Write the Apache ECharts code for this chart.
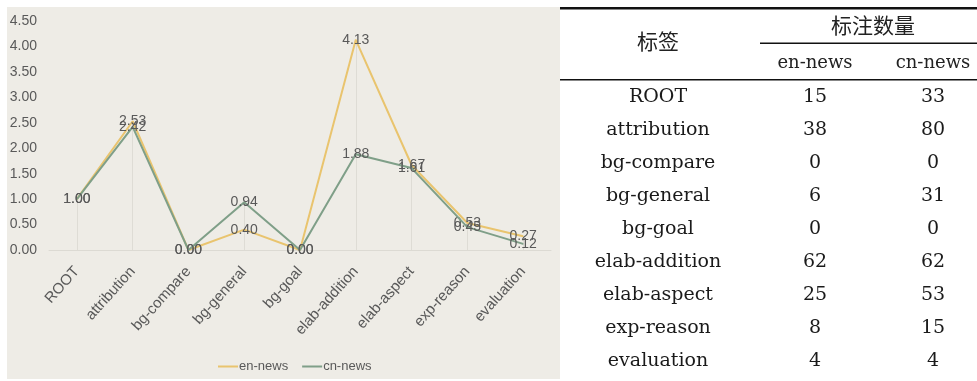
<!DOCTYPE html>
<html>
<head>
<meta charset="utf-8">
<script src="https://cdn.jsdelivr.net/npm/echarts@6/dist/echarts.min.js"></script>
<style>
html,body{margin:0;padding:0;background:#fff;}
#c{width:977px;height:381px;}
</style>
</head>
<body>
<div id="c"></div>
<script>
// ---- data ----
const categories = ['ROOT','attribution','bg-compare','bg-general','bg-goal','elab-addition','elab-aspect','exp-reason','evaluation'];
const enNews = [1.00, 2.53, 0.00, 0.40, 0.00, 4.13, 1.67, 0.53, 0.27];
const cnNews = [1.00, 2.42, 0.00, 0.94, 0.00, 1.88, 1.61, 0.45, 0.12];
const yTicks = ['0.00','0.50','1.00','1.50','2.00','2.50','3.00','3.50','4.00','4.50'];
const tableLabels = ['ROOT','attribution','bg-compare','bg-general','bg-goal','elab-addition','elab-aspect','exp-reason','evaluation'];
const enCounts = [15, 38, 0, 6, 0, 62, 25, 8, 4];
const cnCounts = [33, 80, 0, 31, 0, 62, 53, 15, 4];
const seriesNames = ['en-news','cn-news'];
const headerLabel = '标签';
const headerGroup = '标注数量';

// ---- layout / style ----
const enColor = '#E9C46E';
const cnColor = '#7F9F88';
const textGrey = '#595959';
const narrow = '"Liberation Sans Narrow","Liberation Sans",Arial,sans-serif';
const serif = '"DejaVu Serif","Liberation Serif",serif';
const cjk = '"Noto Sans CJK SC","Noto Sans CJK TC",sans-serif';

const chart = echarts.init(document.getElementById('c'));

const graphics = [];
// chart panel background
graphics.push({type:'rect', z:-10, shape:{x:7,y:7,width:553,height:372}, style:{fill:'#EEECE6'}, silent:true});
// table rules
const tL = 560, tR = 977;
graphics.push({type:'rect', shape:{x:tL,y:7,width:tR-tL,height:2.5}, style:{fill:'#111'}});
graphics.push({type:'rect', shape:{x:760,y:42.5,width:tR-760,height:1.5}, style:{fill:'#111'}});
graphics.push({type:'rect', shape:{x:tL,y:79,width:tR-tL,height:1.5}, style:{fill:'#111'}});
// header texts
const colX = [658, 815, 933];
graphics.push({type:'text', x:colX[0], y:41, style:{text:headerLabel, font:'21px '+cjk, fill:'#222', align:'center', verticalAlign:'middle'}});
graphics.push({type:'text', x:873, y:25, style:{text:headerGroup, font:'21px '+cjk, fill:'#222', align:'center', verticalAlign:'middle'}});
graphics.push({type:'text', x:colX[1], y:63, style:{text:seriesNames[0], font:'18px '+serif, fill:'#222', align:'center', verticalAlign:'middle'}});
graphics.push({type:'text', x:colX[2], y:63, style:{text:seriesNames[1], font:'18px '+serif, fill:'#222', align:'center', verticalAlign:'middle'}});
// body rows
tableLabels.forEach((lab, i) => {
  const y = 97 + i * 33;
  graphics.push({type:'text', x:colX[0], y:y, style:{text:lab, font:'19px '+serif, fill:'#1a1a1a', align:'center', verticalAlign:'middle'}});
  graphics.push({type:'text', x:colX[1], y:y, style:{text:String(enCounts[i]), font:'19px '+serif, fill:'#1a1a1a', align:'center', verticalAlign:'middle'}});
  graphics.push({type:'text', x:colX[2], y:y, style:{text:String(cnCounts[i]), font:'19px '+serif, fill:'#1a1a1a', align:'center', verticalAlign:'middle'}});
});

// drop lines from the higher of the two values down to the axis
const dropLines = categories.map((c, i) => [
  {coord:[c, Math.max(enNews[i], cnNews[i])]},
  {coord:[c, 0]}
]);

const labelStyle = {show:true, position:'inside', color:textGrey, fontSize:14, fontFamily:narrow,
  formatter: p => Number(p.value).toFixed(2)};

chart.setOption({
  animation:false,
  backgroundColor:'#ffffff',
  textStyle:{fontFamily:narrow},
  graphic: graphics,
  grid:{left:49, right:977-551, top:21, bottom:381-250, containLabel:false},
  legend:{
    data:seriesNames, top:360, left:218, padding:0, itemWidth:20, itemHeight:2, itemGap:14,
    icon:'rect', textStyle:{color:textGrey, fontSize:13, fontFamily:narrow, padding:[0,0,0,-4]}
  },
  xAxis:{
    type:'category', data:categories, boundaryGap:true,
    axisLine:{show:true, lineStyle:{color:'#DCDAD3', width:1}},
    axisTick:{show:false},
    splitLine:{show:false},
    axisLabel:{rotate:48, color:textGrey, fontSize:15, fontFamily:narrow, margin:19, interval:0}
  },
  yAxis:{
    type:'value', min:0, max:4.5, interval:0.5,
    axisLine:{show:false}, axisTick:{show:false}, splitLine:{show:false},
    axisLabel:{color:textGrey, fontSize:14, fontFamily:narrow, margin:12, formatter: v => yTicks[Math.round(v/0.5)]}
  },
  series:[
    {name:seriesNames[0], type:'line', data:enNews, color:enColor, symbol:'circle', symbolSize:1,
     lineStyle:{width:2, color:enColor}, itemStyle:{color:enColor}, label:labelStyle, z:3,
     markLine:{silent:true, symbol:'none', label:{show:false}, lineStyle:{color:'#DEDCD5', width:1, type:'solid'}, data:dropLines, z:1}},
    {name:seriesNames[1], type:'line', data:cnNews, color:cnColor, symbol:'circle', symbolSize:1,
     lineStyle:{width:2, color:cnColor}, itemStyle:{color:cnColor}, label:labelStyle, z:4}
  ]
});
</script>
</body>
</html>
